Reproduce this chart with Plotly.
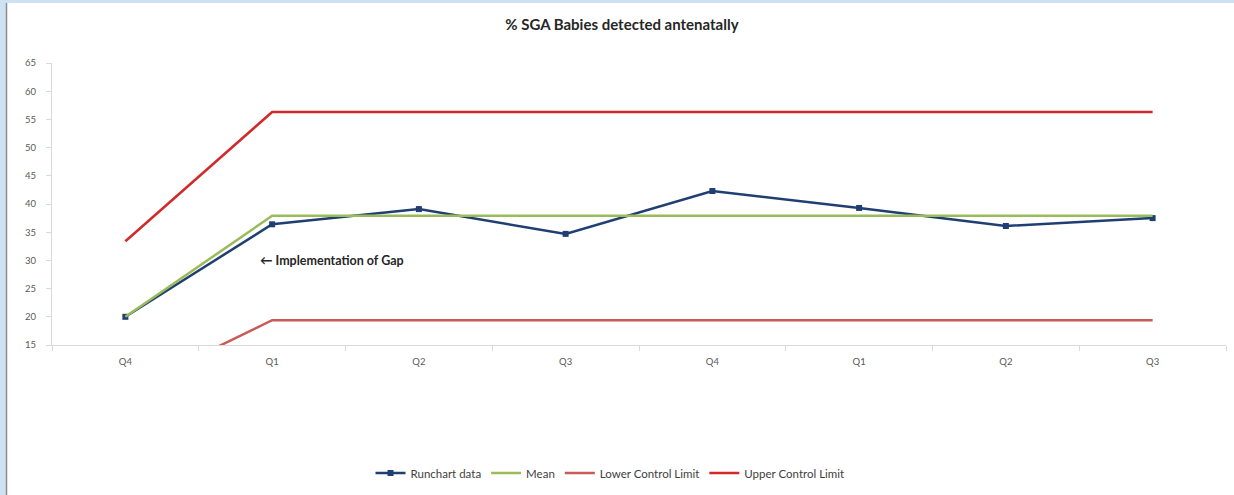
import plotly.graph_objects as go

# Quarterly run chart: % SGA babies detected antenatally
quarters = ["Q4", "Q1", "Q2", "Q3", "Q4", "Q1", "Q2", "Q3"]
runchart = [20.0, 36.4, 39.1, 34.7, 42.3, 39.3, 36.1, 37.5]
mean = [20.0, 37.9, 37.9, 37.9, 37.9, 37.9, 37.9, 37.9]
lcl = [6.7, 19.4, 19.4, 19.4, 19.4, 19.4, 19.4, 19.4]
ucl = [33.4, 56.3, 56.3, 56.3, 56.3, 56.3, 56.3, 56.3]
y_ticks = [15, 20, 25, 30, 35, 40, 45, 50, 55, 60, 65]

x = list(range(len(quarters)))
FONT = "Lato"

fig = go.Figure()
fig.add_trace(go.Scatter(
    x=x, y=runchart, name="Runchart data", mode="lines+markers",
    line=dict(color="#1F3F73", width=2.5),
    marker=dict(symbol="square", size=6, color="#1F3F73"),
))
fig.add_trace(go.Scatter(
    x=x, y=mean, name="Mean", mode="lines",
    line=dict(color="#9BBB59", width=2.5),
))
fig.add_trace(go.Scatter(
    x=x, y=lcl, name="Lower Control Limit", mode="lines",
    line=dict(color="#C85A5A", width=2.5),
))
fig.add_trace(go.Scatter(
    x=x, y=ucl, name="Upper Control Limit", mode="lines",
    line=dict(color="#D02A2A", width=2.5),
))

# Plot area geometry (pixels) used for the frame shapes
W, H = 1234, 495
L, R, T, B = 52, 8, 63, 150
pw, ph = W - L - R, H - T - B


def px_x(p):
    return (p - L) / pw


def px_y(p):
    return (H - B - p) / ph


fig.update_layout(
    width=W, height=H,
    margin=dict(l=L, r=R, t=T, b=B),
    paper_bgcolor="white", plot_bgcolor="white",
    font=dict(family=FONT, size=10, color="#595959"),
    title=dict(
        text="<b>% SGA Babies detected antenatally</b>",
        x=0.504, y=1 - 25 / H, xanchor="center", yanchor="middle",
        font=dict(family=FONT, size=15, color="#262626"),
    ),
    showlegend=True,
    legend=dict(
        orientation="h", x=px_x(610), y=px_y(473),
        xanchor="center", yanchor="middle",
        font=dict(family=FONT, size=11.5, color="#404040"),
        itemwidth=30, tracegroupgap=0,
        bgcolor="rgba(0,0,0,0)",
    ),
    xaxis=dict(
        range=[-0.5, len(quarters) - 0.5],
        tickmode="array", tickvals=x, ticktext=quarters,
        ticks="", showgrid=False, zeroline=False,
        showline=True, linecolor="#D9D9D9", linewidth=1,
        tickfont=dict(family=FONT, size=9.5, color="#595959"),
        ticklabelstandoff=8,
        minor=dict(
            tickmode="array",
            tickvals=[i - 0.5 for i in range(len(quarters) + 1)],
            ticks="outside", ticklen=5, tickcolor="#D9D9D9", showgrid=False,
        ),
        fixedrange=True,
    ),
    yaxis=dict(
        range=[15, 65], tickmode="array", tickvals=y_ticks,
        ticks="outside", ticklen=5, tickcolor="#D9D9D9",
        showgrid=False, zeroline=False,
        showline=True, linecolor="#D9D9D9", linewidth=1,
        tickfont=dict(family=FONT, size=9.5, color="#595959"),
        ticklabelstandoff=8,
        fixedrange=True,
    ),
    annotations=[dict(
        x=0.905, y=30, xref="x", yref="y",
        text="<b>\u2190 Implementation of Gap</b>", showarrow=False,
        xanchor="left", yanchor="middle",
        font=dict(family=FONT, size=12.5, color="#262626"),
    )],
    shapes=[
        # light blue page frame on top and left
        dict(type="rect", xref="paper", yref="paper",
             x0=px_x(0), x1=px_x(W), y0=px_y(0), y1=px_y(3),
             fillcolor="#CFE2F3", line=dict(width=0), layer="below"),
        dict(type="rect", xref="paper", yref="paper",
             x0=px_x(0), x1=px_x(6), y0=px_y(0), y1=px_y(H),
             fillcolor="#CFE2F3", line=dict(width=0), layer="below"),
        dict(type="line", xref="paper", yref="paper",
             x0=px_x(6.5), x1=px_x(6.5), y0=px_y(3), y1=px_y(H),
             line=dict(color="#8C8C8C", width=1.5)),
    ],
)

fig.write_html("out.html")
